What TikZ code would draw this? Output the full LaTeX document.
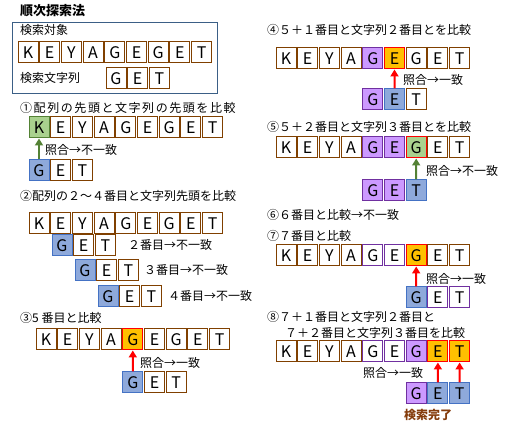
\documentclass[tikz,border=0pt]{standalone}
\usepackage{fontspec}
\setmainfont{Noto Sans CJK JP}
\usetikzlibrary{arrows.meta}
\definecolor{cbr}{RGB}{128,64,0}
\definecolor{corange}{RGB}{255,192,0}
\definecolor{cred}{RGB}{255,0,0}
\definecolor{cgreenf}{RGB}{169,209,142}
\definecolor{cgreen}{RGB}{84,130,53}
\definecolor{cbluef}{RGB}{142,169,219}
\definecolor{cblue}{RGB}{68,114,196}
\definecolor{cpurf}{RGB}{204,153,255}
\definecolor{cpur}{RGB}{112,48,160}
\definecolor{cbox}{RGB}{59,95,134}
\definecolor{cdone}{RGB}{132,60,12}
\tikzset{
 cell/.style={draw=cbr, fill=white, line width=1pt, minimum width=20pt, minimum height=21pt, inner sep=0pt, font=\fontsize{16}{16}\selectfont},
 pn/.style={},
 hit/.style={fill=corange, draw=cred},
 grn/.style={fill=cgreenf, draw=cgreen},
 grr/.style={fill=cgreenf, draw=cred},
 blu/.style={fill=cbluef, draw=cblue},
 pur/.style={fill=cpurf, draw=cpur},
 pwo/.style={fill=white, draw=cpur},
 lbl/.style={anchor=west, inner sep=0pt, font=\fontsize{12}{12}\selectfont},
 arr/.style={line width=2pt, -{Triangle[width=8pt,length=7pt]}},
}
\newcommand\crow[4]{\foreach \L/\S [count=\i] in {#4}{\node[cell,\S] (#1\i) at ({#2+10+(\i-1)*21.7},{#3+10.5}) {\L};}}
\begin{document}
\begin{tikzpicture}[x=1pt,y=-1pt]
\useasboundingbox (0,0) rectangle (506,427);
% title and search target box
\node[lbl,font=\fontsize{13}{13}\selectfont\bfseries] (title) at (20,11) {順次探索法};
\draw[cbox,line width=0.8pt] (12,22) rectangle (217,93);
\node[lbl] (t0a) at (20,30) {検索対象};
\crow{r0}{18}{42}{K/pn,E/pn,Y/pn,A/pn,G/pn,E/pn,G/pn,E/pn,T/pn}
\node[lbl] (t0b) at (20,78) {検索文字列};
\crow{g0}{106}{68}{G/pn,E/pn,T/pn}
% step 1
\node[lbl] (t1) at (20,108) {\addfontfeature{LetterSpace=13}①配列の先頭と文字列の先頭を比較};
\crow{r1}{29}{117}{K/grn,E/pn,Y/pn,A/pn,G/pn,E/pn,G/pn,E/pn,T/pn}
\crow{g1}{29}{160}{G/blu,E/pn,T/pn}
\draw[arr,cgreen] (g11.north) -- (r11.south);
\node[lbl] (m1) at (45,150) {照合→不一致};
% step 2
\node[lbl] (t2) at (20,196) {②配列の２～４番目と文字列先頭を比較};
\crow{r2}{29}{213}{K/pn,E/pn,Y/pn,A/pn,G/pn,E/pn,G/pn,E/pn,T/pn}
\crow{g2a}{52}{235}{G/blu,E/pn,T/pn}
\node[lbl] (m2a) at (128,245) {２番目→不一致};
\crow{g2b}{75}{260}{G/blu,E/pn,T/pn}
\node[lbl] (m2b) at (144,270) {３番目→不一致};
\crow{g2c}{98}{286}{G/blu,E/pn,T/pn}
\node[lbl] (m2c) at (168,296) {４番目→不一致};
% step 3
\node[lbl] (t3) at (20,318) {③5 番目と比較};
\crow{r3}{36}{329}{K/pn,E/pn,Y/pn,A/pn,G/hit,E/pn,G/pn,E/pn,T/pn}
\crow{g3}{122.8}{372}{G/blu,E/pn,T/pn}
\draw[arr,cred] (g31.north) -- (r35.south);
\node[lbl] (m3) at (140,363) {照合→一致};
% step 4
\node[lbl] (t4) at (267,30) {④５＋１番目と文字列２番目とを比較};
\crow{r4}{276}{48}{K/pn,E/pn,Y/pn,A/pn,G/pur,E/hit,G/pn,E/pn,T/pn}
\crow{g4}{362.8}{89}{G/pur,E/blu,T/pn}
\draw[arr,cred] (g42.north) -- (r46.south);
\node[lbl] (m4) at (403,80) {照合→一致};
% step 5
\node[lbl] (t5) at (267,127) {⑤５＋２番目と文字列３番目とを比較};
\crow{r5}{276}{137}{K/pn,E/pn,Y/pn,A/pn,G/pur,E/pur,G/grr,E/pn,T/pn}
\crow{g5}{362.8}{180}{G/pur,E/pur,T/blu}
\draw[arr,cgreen] (g53.north) -- (r57.south);
\node[lbl] (m5) at (426,171) {照合→不一致};
% step 6
\node[lbl] (t6) at (267,215) {⑥６番目と比較→不一致};
% step 7
\node[lbl] (t7) at (267,236) {⑦７番目と比較};
\crow{r7}{276}{245}{K/pn,E/pn,Y/pn,A/pn,G/pwo,E/pwo,G/hit,E/pn,T/pn}
\crow{g7}{406.2}{287}{G/blu,E/pwo,T/pwo}
\draw[arr,cred] (g71.north) -- (r77.south);
\node[lbl] (m7) at (426,279) {照合→一致};
% step 8
\node[lbl] (t8a) at (267,317) {⑧７＋１番目と文字列２番目と};
\node[lbl] (t8b) at (285,333) {７＋２番目と文字列３番目を比較};
\crow{r8}{276}{341}{K/pn,E/pn,Y/pn,A/pn,G/pwo,E/pwo,G/pur,E/hit,T/hit}
\crow{g8}{406.2}{383}{G/pur,E/blu,T/blu}
\draw[arr,cred] (g82.north) -- (r88.south);
\draw[arr,cred] (g83.north) -- (r89.south);
\node[lbl] (m8) at (363,373) {照合→一致};
\node[font=\fontsize{12}{12}\selectfont\bfseries,text=cdone,inner sep=0pt] (done) at (428,415) {検索完了};
\end{tikzpicture}
\end{document}
